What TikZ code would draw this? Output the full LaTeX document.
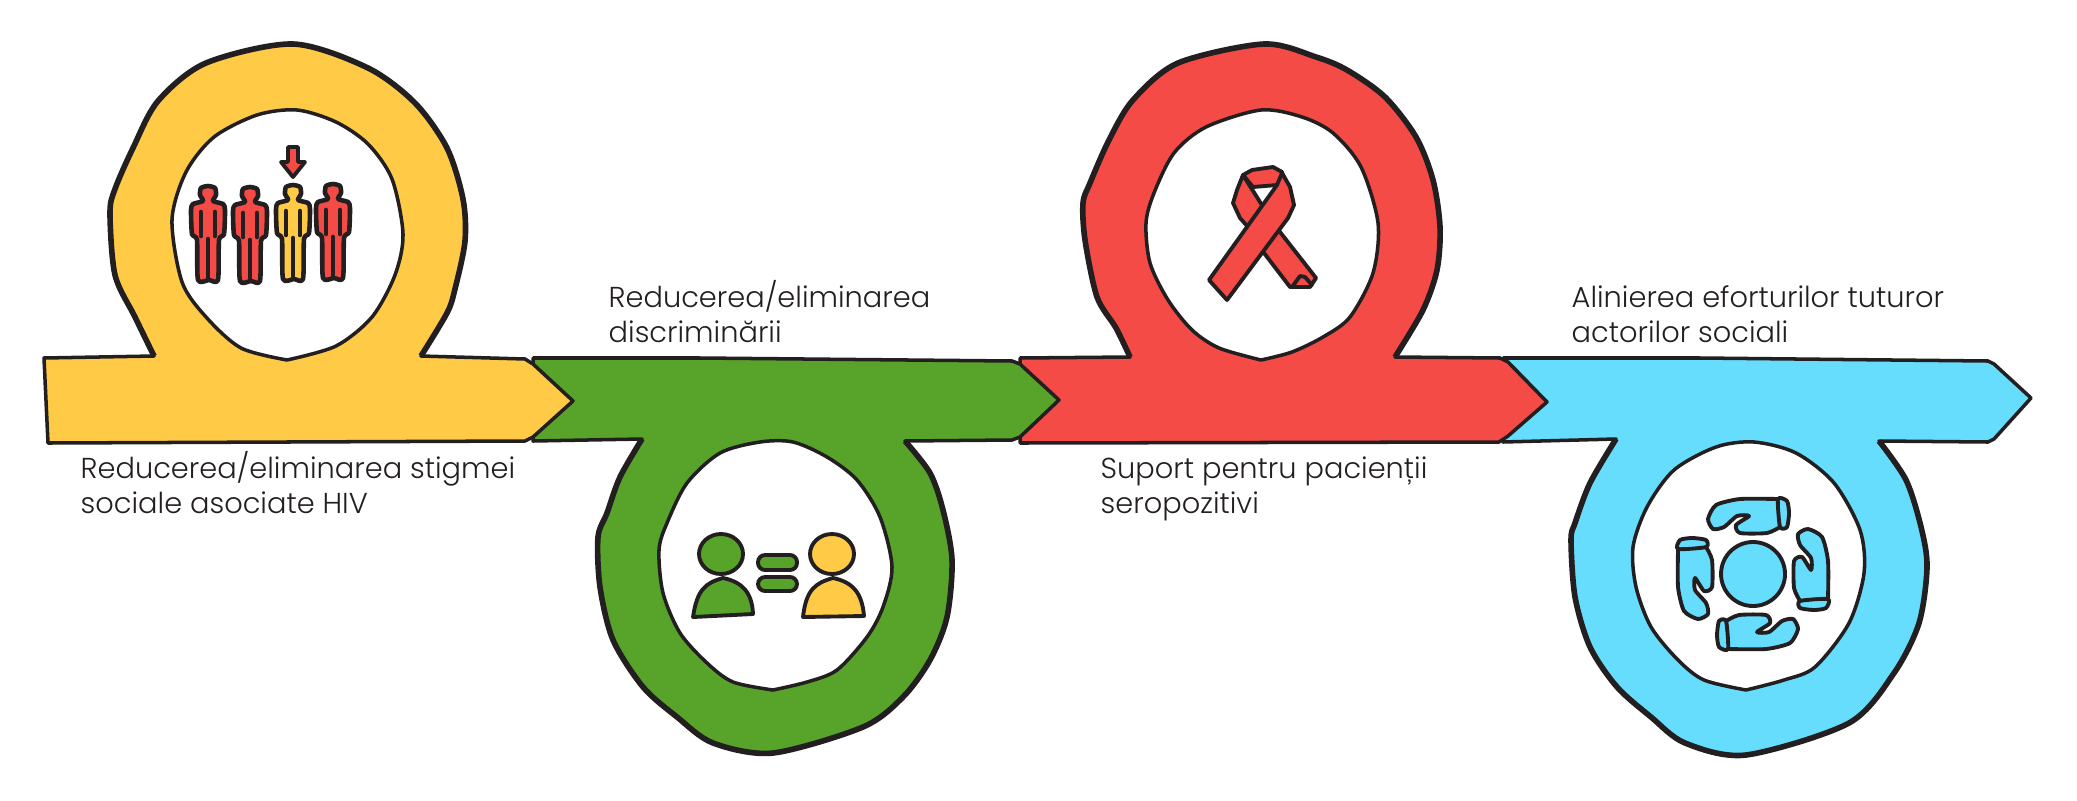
\documentclass[tikz,border=0pt]{standalone}
\usepackage{fontspec}
\newfontfamily\labelfont[UprightFont={* Light}]{Poppins}
\definecolor{inkline}{HTML}{231F20}
\definecolor{stigmafill}{HTML}{FFCB47}
\definecolor{equalfill}{HTML}{58A42A}
\definecolor{ribbonfill}{HTML}{F44B47}
\definecolor{alignfill}{HTML}{66DDFD}
\tikzset{
  band/.style={draw=inkline,line width=1pt,line join=round},
  loopline/.style={draw=inkline,line width=1.6pt,line join=round},
  hole/.style={draw=inkline,line width=1pt,line join=round,fill=white},
  glyph/.style={draw=inkline,line width=1.1pt,line join=round,line cap=round},
  figureline/.style={draw=inkline,line width=1.3pt,line join=round,line cap=round},
  caption/.style={font=\labelfont\fontsize{8.2pt}{9.9pt}\selectfont,text=inkline,align=left,anchor=base west,inner sep=0pt}
}
\newcommand{\stigmaloop}{-- plot[smooth,tension=.5] coordinates {(154,356) (135,317) (115,275) (110,213) (115,189) (133,148) (158,101) (206,63) (293,44) (368,68) (415,103) (447,148) (463,199) (465,241) (455,289) (447,313) (421,356)}}
\newcommand{\equalloop}{-- plot[smooth,tension=.5] coordinates {(905,441) (930,473) (943,510) (952,560) (947,617) (930,660) (903,697) (863,727) (773,753) (713,743) (677,717) (643,687) (613,640) (600,587) (598,537) (607,513) (620,477) (642,439)}}
\newcommand{\ribbonloop}{-- plot[smooth,tension=.5] coordinates {(1130,357) (1116,328) (1097,297) (1085,240) (1083,203) (1090,183) (1109,140) (1133,100) (1178,63) (1264,44) (1316,57) (1347,70) (1385,97) (1416,137) (1433,180) (1440,227) (1437,270) (1423,310) (1395,357)}}
\newcommand{\alignloop}{-- plot[smooth,tension=.5] coordinates {(1879,441) (1906,480) (1921,527) (1927,567) (1919,623) (1894,673) (1849,723) (1746,755) (1685,743) (1651,717) (1617,687) (1590,647) (1575,597) (1571,540) (1575,523) (1590,483) (1616,439)}}
\newcommand{\crowdfigure}[3]{
  \begin{scope}[shift={(#1,#2)}]
    \draw[figureline,fill=#3] plot[smooth cycle,tension=.4] coordinates {(0,2) (7,4) (8,11) (5,17) (15,20) (17,26) (16,50) (11,56) (10,96) (1,96) (-10,96) (-11,56) (-16,50) (-17,26) (-15,20) (-5,17) (-8,11) (-7,4)};
    \draw[figureline] (-7,28) -- (-7,52);
    \draw[figureline] (7,28) -- (7,52);
    \draw[figureline] (0,55) -- (0,94);
  \end{scope}
}
\begin{document}
\begin{tikzpicture}[x=0.01cm,y=-0.01cm]
  \useasboundingbox (0,0) rectangle (2077,800);

  \draw[band,fill=alignfill] (1503,358) -- (1700,358) -- (1988,361) -- (1994,364) -- (2031,398) -- (1994,439) -- (1988,442) -- (1879,441)
    \alignloop -- (1503,442) -- cycle;
  \draw[loopline] (1879,441) \alignloop;
  \draw[hole] plot[smooth,tension=.5] coordinates {(1746,690) (1704,680) (1678,660) (1651,627) (1636,587) (1633,547) (1647,507) (1674,470) (1716,447) (1754,442) (1796,453) (1834,483) (1860,530) (1864,573) (1849,623) (1815,667) (1784,680) (1746,690)} -- cycle;
  \draw[glyph,fill=alignfill] (1753,574) circle (32);
  \foreach \turn in {0,90,180,270} {
    \begin{scope}[rotate around={\turn:(1753,574)}]
      \draw[glyph,fill=alignfill] plot[smooth,tension=.4] coordinates {(1778,499) (1740,499) (1716,505) (1708,519) (1713,529) (1724,527) (1737,516) (1749,516) (1736,525) (1740,533) (1767,533) (1780,527)} -- cycle;
      \draw[glyph,fill=alignfill] plot[smooth cycle,tension=.4] coordinates {(1778,499) (1787,501) (1789,513) (1787,527) (1780,527)};
    \end{scope}
  }

  \draw[band,fill=ribbonfill] (1020,358) -- (1130,357)
    \ribbonloop -- (1500,358) -- (1508,362) -- (1547,402) -- (1508,436) -- (1499,442) -- (1020,443) -- cycle;
  \draw[loopline] (1130,357) \ribbonloop;
  \draw[hole] plot[smooth,tension=.5] coordinates {(1261,360) (1219,348) (1192,330) (1168,300) (1150,263) (1146,223) (1154,193) (1174,153) (1206,127) (1261,110) (1302,117) (1333,133) (1361,167) (1378,223) (1373,273) (1350,317) (1323,337) (1292,352) (1261,360)} -- cycle;
  \draw[glyph,fill=ribbonfill] (1243,175) -- (1265,210) -- (1280,232) -- (1316,278) -- (1310,287) -- (1290,287) -- (1264,253) -- (1248,227) -- (1240,218) -- (1233,203) -- (1237,190) -- cycle;
  \draw[glyph] (1292,287) -- (1300,276) -- (1305,277) -- (1312,285);
  \draw[glyph,fill=ribbonfill] (1243,175) -- (1252,170) -- (1273,167) -- (1282,172) -- (1283,178) -- (1277,185) -- (1253,187) -- cycle;
  \draw[glyph,fill=ribbonfill] (1282,173) -- (1290,187) -- (1294,205) -- (1288,218) -- (1227,300) -- (1209,280) -- (1277,185) -- cycle;

  \draw[band,fill=equalfill] (533,358) -- (700,358) -- (1012,361) -- (1020,364) -- (1059,400) -- (1020,437) -- (1012,440) -- (905,441)
    \equalloop -- (533,441) -- cycle;
  \draw[loopline] (905,441) \equalloop;
  \draw[hole] plot[smooth,tension=.5] coordinates {(773,690) (733,682) (707,663) (680,633) (663,593) (659,550) (667,523) (687,483) (720,453) (760,442) (793,442) (827,457) (857,480) (880,517) (892,567) (883,607) (867,637) (837,670) (807,682) (773,690)} -- cycle;
  \draw[glyph,fill=equalfill] (721,554) ellipse (22 and 20);
  \draw[glyph,fill=equalfill] (693,617) .. controls (697,590) and (705,583) .. (723,578) .. controls (742,582) and (752,592) .. (753,614) -- cycle;
  \draw[glyph,fill=stigmafill] (832,554) ellipse (22 and 20);
  \draw[glyph,fill=stigmafill] (803,617) .. controls (806,590) and (815,583) .. (833,578) .. controls (852,582) and (862,592) .. (864,616) -- cycle;
  \draw[glyph,fill=equalfill,rounded corners=2pt] (758,555) rectangle (797,570);
  \draw[glyph,fill=equalfill,rounded corners=2pt] (758,577) rectangle (797,591);

  \draw[band,fill=stigmafill] (44,358) -- (154,356)
    \stigmaloop -- (525,359) -- (533,364) -- (573,401) -- (533,437) -- (525,441) -- (48,443) -- cycle;
  \draw[loopline] (154,356) \stigmaloop;
  \draw[hole] plot[smooth,tension=.5] coordinates {(287,360) (241,348) (206,317) (182,282) (172,220) (186,172) (214,137) (257,115) (297,110) (336,122) (368,144) (392,179) (403,234) (395,275) (372,317) (336,346) (287,360)} -- cycle;
  \crowdfigure{208}{184}{ribbonfill}
  \crowdfigure{250}{185}{ribbonfill}
  \crowdfigure{293}{183}{stigmafill}
  \crowdfigure{333}{182}{ribbonfill}
  \draw[glyph,fill=ribbonfill] (288,147) -- (298,147) -- (298,162) -- (305,162) -- (293,177) -- (281,162) -- (288,162) -- cycle;

  \node[caption] (stigma) at (80,513.5) {Reducerea/eliminarea stigmei\\sociale asociate HIV};
  \node[caption] (discrimination) at (608,342.5) {Reducerea/eliminarea\\discriminării};
  \node[caption] (support) at (1100,513.5) {Suport pentru pacienții\\seropozitivi};
  \node[caption] (actors) at (1571,342.5) {Alinierea eforturilor tuturor\\actorilor sociali};
\end{tikzpicture}
\end{document}
